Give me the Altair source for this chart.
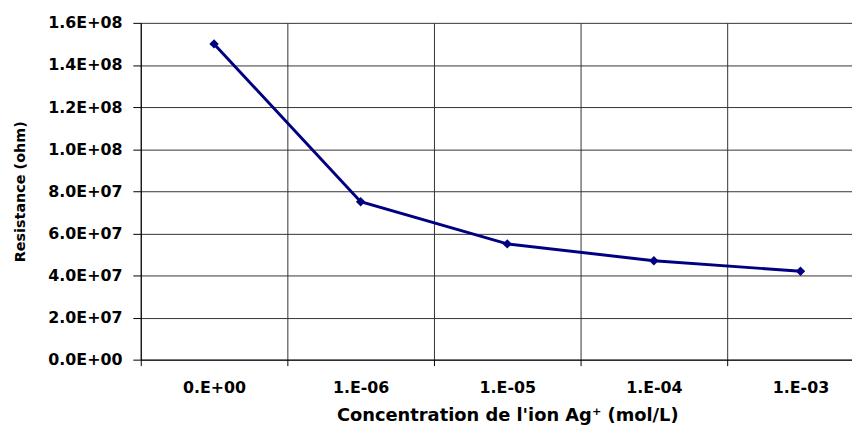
import altair as alt
import pandas as pd

categories = ["0.E+00", "1.E-06", "1.E-05", "1.E-04", "1.E-03"]
resistance = [1.5e8, 7.5e7, 5.5e7, 4.7e7, 4.2e7]
y_tick_values = [0, 2e7, 4e7, 6e7, 8e7, 1e8, 1.2e8, 1.4e8, 1.6e8]
y_tick_labels = ["0.0E+00", "2.0E+07", "4.0E+07", "6.0E+07", "8.0E+07",
                 "1.0E+08", "1.2E+08", "1.4E+08", "1.6E+08"]

df = pd.DataFrame({"conc": categories, "res": resistance})

label_array = "[" + ",".join("'" + s + "'" for s in y_tick_labels) + "]"
y_label_expr = label_array + "[round(datum.value / 2e7)]"

FONT = "DejaVu Sans"

x_enc = alt.X(
    "conc:N",
    sort=categories,
    scale=alt.Scale(paddingInner=0, paddingOuter=0, range=[0, 740]),
    axis=alt.Axis(
        title="Concentration de l'ion Ag⁺ (mol/L)",
        labelAngle=0,
        tickBand="extent",
        grid=True,
        gridColor="#333333",
        gridWidth=1,
        domainColor="#000000",
        tickColor="#000000",
        tickSize=6,
        labelPadding=14,
        labelFont=FONT,
        labelFontSize=16,
        labelFontWeight="bold",
        labelColor="#000000",
        titleFont=FONT,
        titleFontSize=18,
        titleFontWeight="bold",
        titleColor="#000000",
        titlePadding=11,
    ),
)

y_enc = alt.Y(
    "res:Q",
    scale=alt.Scale(domain=[0, 1.6e8], nice=False, zero=True),
    axis=alt.Axis(
        title="Resistance (ohm)",
        values=y_tick_values,
        labelExpr=y_label_expr,
        grid=True,
        gridColor="#333333",
        gridWidth=1,
        domainColor="#000000",
        tickColor="#000000",
        tickSize=8,
        labelPadding=11,
        labelFont=FONT,
        labelFontSize=16,
        labelFontWeight="bold",
        labelColor="#000000",
        titleFont=FONT,
        titleFontSize=14.5,
        titleFontWeight="bold",
        titleColor="#000000",
        titleX=-121,
        titleY=170,
        titleAngle=270,
        titleAlign="center",
        titleBaseline="middle",
    ),
)

base = alt.Chart(df).encode(x=x_enc, y=y_enc)
line = base.mark_line(color="#000080", strokeWidth=3)
pts = base.mark_point(shape="diamond", size=90, filled=True, color="#000080", opacity=1)

chart = (
    alt.layer(line, pts)
    .properties(
        width=718,
        height=340,
        autosize=alt.AutoSizeParams(type="none"),
        padding={"left": 134, "top": 13, "right": 0, "bottom": 67},
        background="white",
    )
    .configure_view(stroke=None)
)

chart.save("out.html", embed_options={"renderer": "svg", "actions": False})
